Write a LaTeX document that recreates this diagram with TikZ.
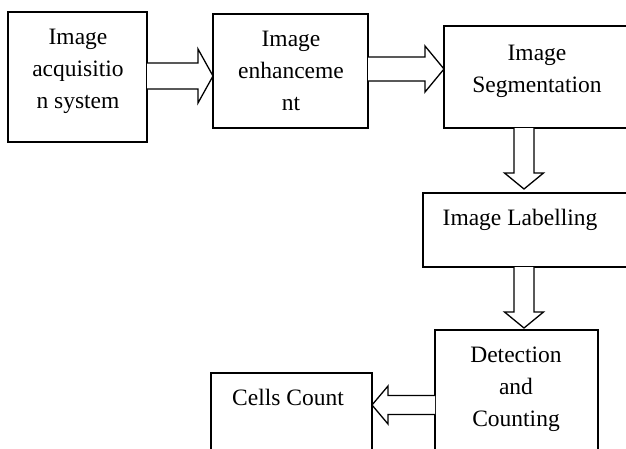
\documentclass[tikz,border=0pt]{standalone}
\usepackage{fontspec}
\setmainfont{Liberation Serif}
\usetikzlibrary{calc}

\tikzset{
  box/.style={draw, line width=1.6pt, rectangle, inner sep=0pt, outer sep=0pt, anchor=north west},
  lbl/.style={inner sep=0pt, align=center, anchor=base, font=\fontsize{23.5}{32}\selectfont},
  blk/.style={draw, line width=1.3pt, line join=miter, fill=white}
}

\begin{document}
\begin{tikzpicture}[x=1pt, y=-1pt]
  \useasboundingbox (0,0) rectangle (626,448);
  \clip (0,0) rectangle (626,448);

  % processing blocks
  \node[box, minimum width=139pt, minimum height=130pt] (b1) at (8,12) {};
  \node[box, minimum width=155pt, minimum height=114pt] (b2) at (213,14) {};
  \node[box, minimum width=196pt, minimum height=102pt] (b3) at (444,26) {};
  \node[box, minimum width=217pt, minimum height=74pt]  (b4) at (423,193) {};
  \node[box, minimum width=163pt, minimum height=140pt] (b5) at (435,330) {};
  \node[box, minimum width=161pt, minimum height=97pt]  (b6) at (211,373) {};

  % block captions (placed by the baseline of their last line)
  \node[lbl] (t1) at (78,108)  {Image\\acquisitio\\n system};
  \node[lbl] (t2) at (291,110) {Image\\enhanceme\\nt};
  \node[lbl] (t3) at (537,92)  {Image\\Segmentation};
  \node[lbl] (t4) at (520,225) {Image Labelling};
  \node[lbl] (t5) at (516,426) {Detection\\and\\Counting};
  \node[lbl] (t6) at (288,405) {Cells Count};

  % hollow block arrows between the stages
  \coordinate (a1s) at (b1.east |- 0,76);
  \coordinate (a1t) at (b2.west |- 0,76);
  \draw[blk] ($(a1s)+(0,-13)$) -- ($(a1t)+(-15,-13)$) -- ($(a1t)+(-15,-27)$) -- (a1t)
        -- ($(a1t)+(-15,27)$) -- ($(a1t)+(-15,13)$) -- ($(a1s)+(0,13)$);

  \coordinate (a2s) at (b2.east |- 0,69);
  \coordinate (a2t) at (b3.west |- 0,69);
  \draw[blk] ($(a2s)+(0,-12)$) -- ($(a2t)+(-19,-12)$) -- ($(a2t)+(-19,-23)$) -- (a2t)
        -- ($(a2t)+(-19,23)$) -- ($(a2t)+(-19,12)$) -- ($(a2s)+(0,12)$);

  \coordinate (a3s) at (524,0 |- b3.south);
  \coordinate (a3t) at ($(524,0 |- b4.north)+(0,-4)$);
  \draw[blk] ($(a3s)+(-10,0)$) -- ($(a3t)+(-10,-16)$) -- ($(a3t)+(-19.5,-16)$) -- (a3t)
        -- ($(a3t)+(19.5,-16)$) -- ($(a3t)+(10,-16)$) -- ($(a3s)+(10,0)$);

  \coordinate (a4s) at (524,0 |- b4.south);
  \coordinate (a4t) at ($(524,0 |- b5.north)+(0,-2)$);
  \draw[blk] ($(a4s)+(-10,0)$) -- ($(a4t)+(-10,-16)$) -- ($(a4t)+(-19.5,-16)$) -- (a4t)
        -- ($(a4t)+(19.5,-16)$) -- ($(a4t)+(10,-16)$) -- ($(a4s)+(10,0)$);

  \coordinate (a5s) at (b5.west |- 0,405);
  \coordinate (a5t) at (b6.east |- 0,405);
  \draw[blk] ($(a5s)+(0,-9.5)$) -- ($(a5t)+(16,-9.5)$) -- ($(a5t)+(16,-19)$) -- (a5t)
        -- ($(a5t)+(16,19)$) -- ($(a5t)+(16,9.5)$) -- ($(a5s)+(0,9.5)$);
\end{tikzpicture}
\end{document}
